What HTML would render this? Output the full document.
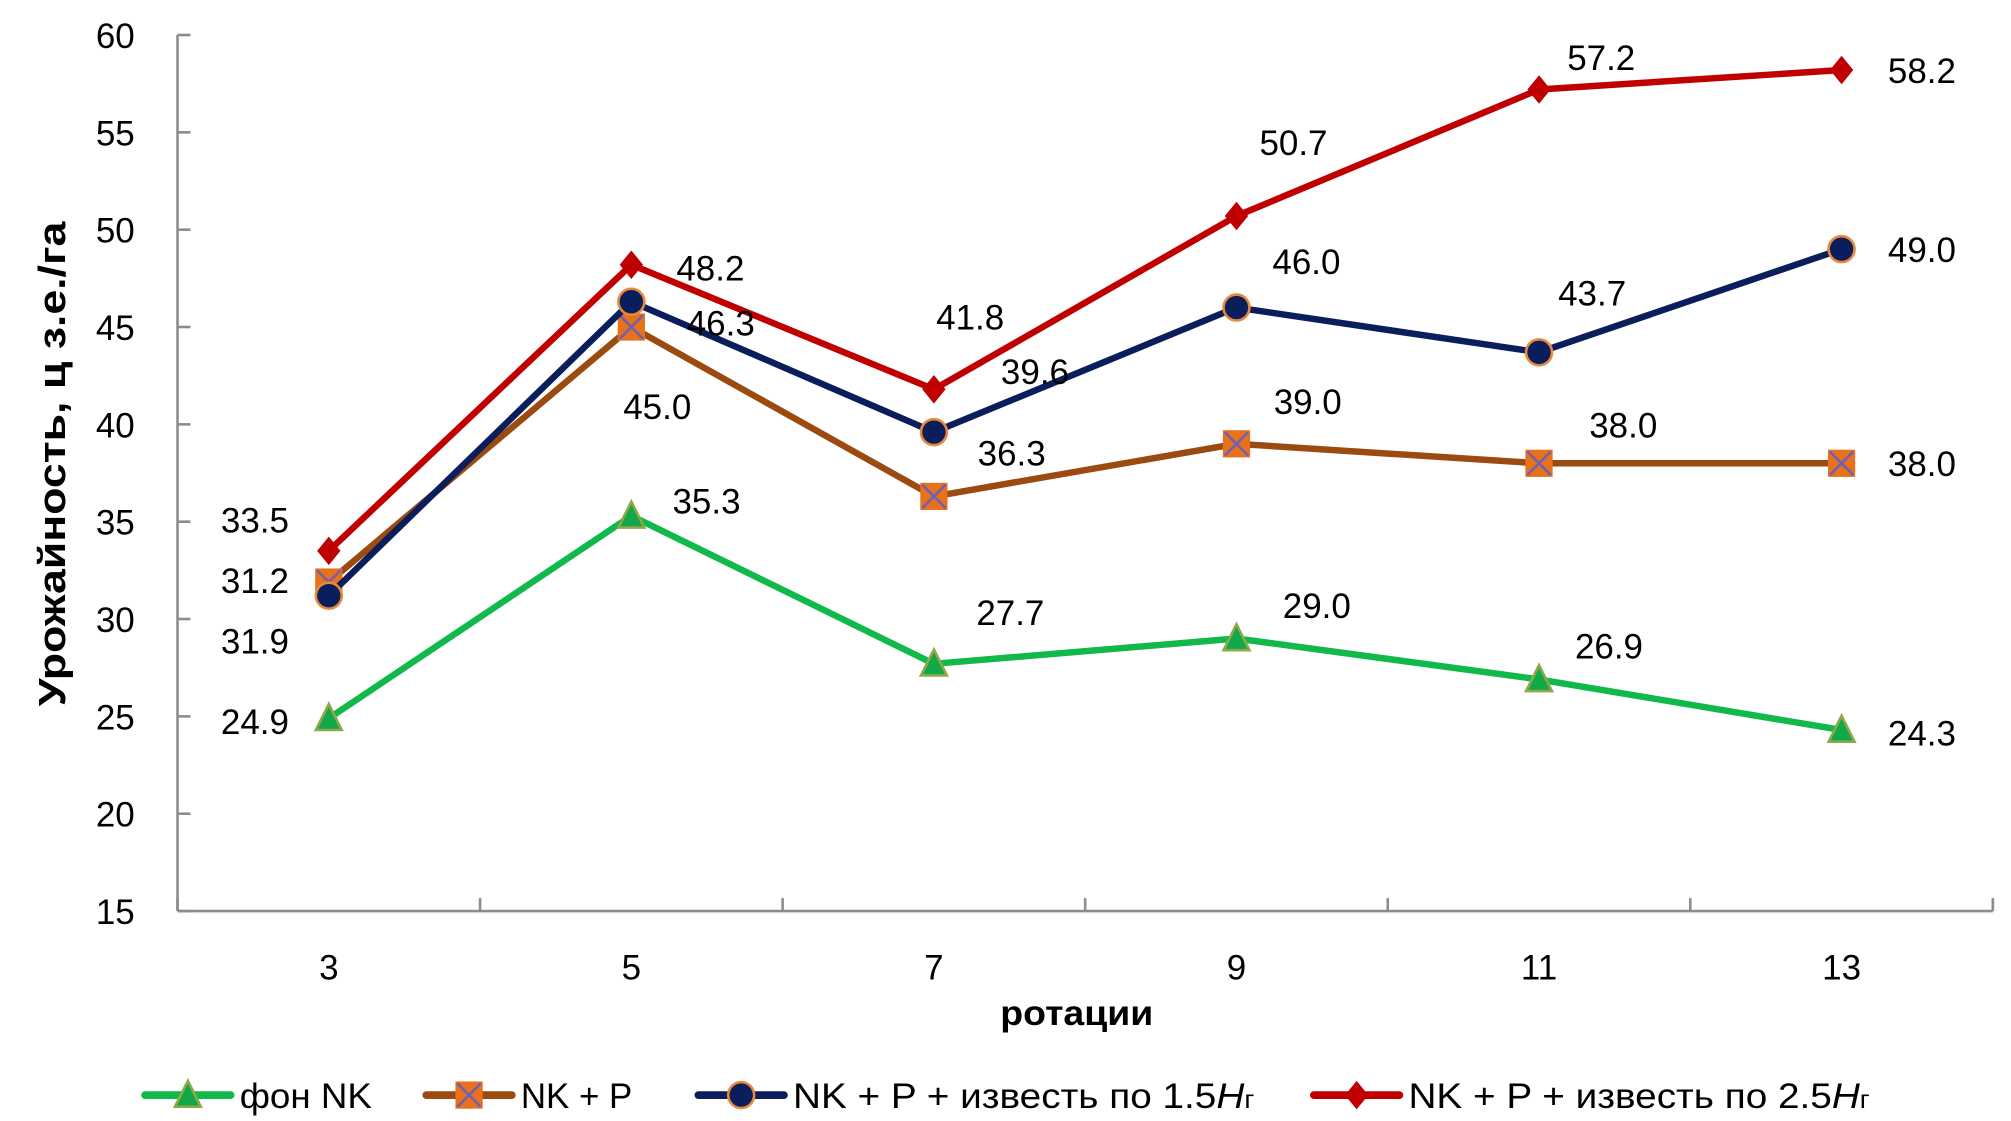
<!DOCTYPE html>
<html><head><meta charset="utf-8"><style>
html,body{margin:0;padding:0;background:#fff}
svg{display:block}
text{font-family:"Liberation Sans","DejaVu Sans",sans-serif;fill:#000}
</style></head><body>
<svg id="chart" width="2011" height="1121" viewBox="0 0 1552 865" preserveAspectRatio="none" xmlns="http://www.w3.org/2000/svg">
<g id="axes"></g><g id="series"></g><g id="labels"></g><g id="legend"></g>
</svg>
<script>
const categories = ["3","5","7","9","11","13"];
const yTicks = [15,20,25,30,35,40,45,50,55,60];
const fonNK = [24.9,35.3,27.7,29.0,26.9,24.3];
const nkP = [31.9,45.0,36.3,39.0,38.0,38.0];
const nkPLime15 = [31.2,46.3,39.6,46.0,43.7,49.0];
const nkPLime25 = [33.5,48.2,41.8,50.7,57.2,58.2];
const seriesNames = ["фон NK","NK + P","NK + P + известь по 1.5","NK + P + известь по 2.5"];

const NS="http://www.w3.org/2000/svg";
function mk(tag,attrs,parent){const e=document.createElementNS(NS,tag);for(const k in attrs)e.setAttribute(k,attrs[k]);parent.appendChild(e);return e;}
const x0=137,x1=1538,yMin=15,yMax=60,yTop=27,yBot=703;
const step=(x1-x0)/categories.length;
function xs(i){return x0+step*(i+0.5);}
function ys(v){return yBot-(v-yMin)/(yMax-yMin)*(yBot-yTop);}
const FS=27;
const axes=document.getElementById('axes');
const ax=mk('line',{x1:x0,y1:yTop,x2:x0,y2:yBot,stroke:'#8c8c8c','stroke-width':2},axes);


yTicks.forEach(t=>{
  const l=mk('line',{x1:x0,y1:ys(t),x2:x0+10,y2:ys(t),stroke:'#8c8c8c','stroke-width':2},axes);
  
  
  const tx=mk('text',{x:104,y:ys(t)+10,'text-anchor':'end','font-size':FS},axes);
  tx.textContent=t;
  
  
});
const xa=mk('line',{x1:x0,y1:yBot,x2:x1,y2:yBot,stroke:'#8c8c8c','stroke-width':2},axes);


for(let i=0;i<=categories.length;i++){
  const l=mk('line',{x1:x0+step*i,y1:yBot,x2:x0+step*i,y2:yBot-10,stroke:'#8c8c8c','stroke-width':2},axes);
  
  
}
categories.forEach((c,i)=>{
  const t=mk('text',{x:xs(i),y:756,'text-anchor':'middle','font-size':FS},axes);
  t.textContent=c;
  
  
});
const xt=mk('text',{x:831,y:791,'text-anchor':'middle','font-size':27,'font-weight':'bold',textLength:118,lengthAdjust:'spacingAndGlyphs'},axes);
xt.textContent='ротации';


const yt=mk('text',{x:0,y:0,'text-anchor':'middle','font-size':29,'font-weight':'bold',textLength:374,lengthAdjust:'spacingAndGlyphs',transform:'translate(50,358) rotate(-90)'},axes);
yt.textContent='Урожайность, ц з.е./га';



function marker(type,cx,cy,parent,s){
  s=s||1;
  if(type==='tri') return mk('polygon',{points:`${cx},${cy-11*s} ${cx-10*s},${cy+9*s} ${cx+10*s},${cy+9*s}`,fill:'#11a84a',stroke:'#8fa84a','stroke-width':2},parent);
  if(type==='sq'){const g=mk('g',{},parent);mk('rect',{x:cx-10*s,y:cy-10*s,width:20*s,height:20*s,fill:'#e8711c',stroke:'#e8711c','stroke-width':1},g);mk('path',{d:`M${cx-9*s},${cy-9*s}L${cx+9*s},${cy+9*s}M${cx+9*s},${cy-9*s}L${cx-9*s},${cy+9*s}`,stroke:'#7060b0','stroke-width':2},g);return g;}
  if(type==='circ') return mk('circle',{cx:cx,cy:cy,r:10*s,fill:'#0a1e5c',stroke:'#e8883a','stroke-width':2},parent);
  return mk('polygon',{points:`${cx},${cy-11*s} ${cx+9*s},${cy} ${cx},${cy+11*s} ${cx-9*s},${cy}`,fill:'#c00000'},parent);
}
const series=[
 {data:fonNK,color:'#11b84a',m:'tri',name:'fon-nk',off:[[-57,2],[58,-12],[59,-40],[62,-26],[54,-26],[62,2]]},
 {data:nkP,color:'#9b4a10',m:'sq',name:'nk-p',off:[[-57,45],[20,61],[60,-34],[55,-33],[65,-30],[62,0]]},
 {data:nkPLime15,color:'#0a1e5c',m:'circ',name:'nk-p-lime-1-5',off:[[-57,-12],[69,16],[78,-47],[54,-36],[41,-46],[62,0]]},
 {data:nkPLime25,color:'#c00000',m:'dia',name:'nk-p-lime-2-5',off:[[-57,-24],[61,2],[28,-56],[44,-57],[48,-25],[62,0]]}
];
const sg=document.getElementById('series'),lg=document.getElementById('labels');
series.forEach(s=>{
  const g=mk('g',{},sg);
  
  
  const p=mk('polyline',{points:s.data.map((v,i)=>xs(i)+','+ys(v)).join(' '),fill:'none',stroke:s.color,'stroke-width':5,'stroke-linejoin':'round'},g);
  
  
  s.data.forEach((v,i)=>{
    const m=marker(s.m,xs(i),ys(v),g);
    
    
    const t=mk('text',{x:xs(i)+s.off[i][0],y:ys(v)+s.off[i][1]+10,'text-anchor':'middle','font-size':FS},lg);
    t.textContent=v.toFixed(1);
    
    
  });
});
const legend=document.getElementById('legend');
const lx=[110,327,537,1012],tl=[102,86,356,356];
series.forEach((s,i)=>{
  const g=mk('g',{},legend);
  
  
  mk('line',{x1:lx[i]+2,y1:845,x2:lx[i]+68,y2:845,stroke:s.color,'stroke-width':6,'stroke-linecap':'round'},g);
  marker(s.m,lx[i]+35,845,g);
  const t=mk('text',{x:lx[i]+75,y:855,'font-size':FS,textLength:tl[i],lengthAdjust:'spacingAndGlyphs'},g);
  t.textContent=seriesNames[i];
  if(i>=2){const ts=mk('tspan',{'font-style':'italic'},t);ts.textContent='H';const ts2=mk('tspan',{'font-size':19},t);ts2.textContent='г';}
});
</script>
</body></html>
